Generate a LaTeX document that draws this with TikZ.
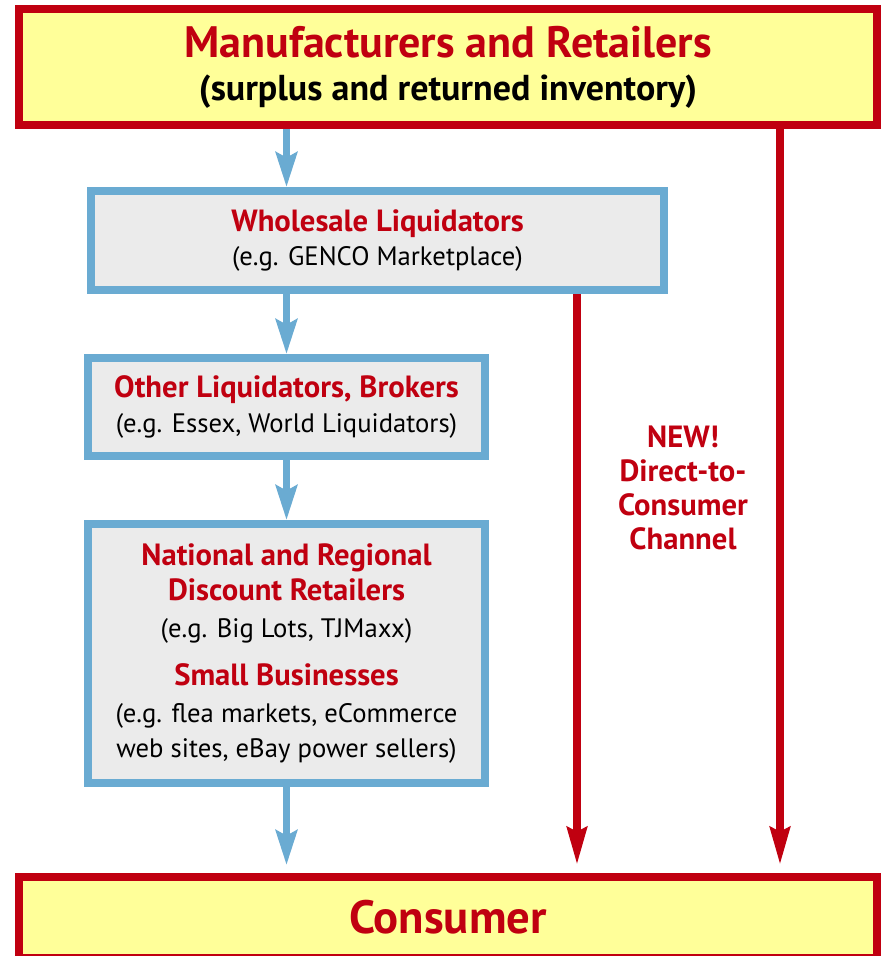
\documentclass[tikz,border=0pt]{standalone}
\usepackage{fontspec}
\setmainfont{PT Sans}
\usetikzlibrary{arrows.meta}

\definecolor{liqred}{RGB}{192,0,16}
\definecolor{liqyellow}{RGB}{255,255,153}
\definecolor{liqblue}{RGB}{106,171,210}
\definecolor{liqgray}{RGB}{235,235,235}

\newcommand{\hd}[1]{{\fontsize{23}{26}\selectfont\bfseries\color{liqred}#1}}

\tikzset{
  endbox/.style={draw=liqred, fill=liqyellow, line width=6pt, inner sep=0pt,
    align=center, minimum width=643.5pt},
  chainbox/.style={draw=liqblue, fill=liqgray, line width=6pt, inner sep=0pt,
    align=center, font=\fontsize{20}{26}\selectfont},
  flow/.style={liqblue, line width=5.25pt,
    -{Stealth[length=26pt, width=16pt, inset=4pt]}},
  direct/.style={liqred, line width=6pt,
    -{Stealth[length=28pt, width=14.5pt, inset=3pt]}},
}

\begin{document}
\begin{tikzpicture}[x=0.75pt, y=-0.75pt]
  \useasboundingbox (0,0) rectangle (885,956);

  \node[endbox, minimum height=87pt, font=\fontsize{27}{32.5}\selectfont] (top) at (448,67)
    {{\fontsize{33}{32.5}\selectfont\bfseries\color{liqred}Manufacturers and Retailers}\\
     {\bfseries (surplus and returned inventory)}};
  \node[chainbox, minimum width=429.75pt, minimum height=74.25pt] (whole) at (377.5,240.5)
    {\hd{Wholesale Liquidators}\\(e.g. GENCO Marketplace)};
  \node[chainbox, minimum width=297.75pt, minimum height=73.5pt] (other) at (286.5,407)
    {\hd{Other Liquidators, Brokers}\\(e.g. Essex, World Liquidators)};
  \node[chainbox, minimum width=297.75pt, minimum height=194.25pt] (nat) at (286.5,653.5)
    {\hd{National and Regional}\\\hd{Discount Retailers}\\[2pt]
     (e.g. Big Lots, TJMaxx)\\[10pt]
     \hd{Small Businesses}\\[2pt]
     (e.g. flea markets, eCommerce\\web sites, eBay power sellers)};
  \node[endbox, minimum height=60.75pt, font=\fontsize{35}{40}\selectfont\bfseries,
    text=liqred] (cons) at (448,917.5) {Consumer};
  \node[align=center, text=liqred, font=\fontsize{23}{25.5}\selectfont\bfseries] (new) at (683,488)
    {NEW!\\Direct-to-\\Consumer\\Channel};

  \coordinate (d1) at (577,0);
  \coordinate (d2) at (780,0);

  % supply chain
  \draw[flow] (top.south -| other.north) -- (other.north |- whole.north);
  \draw[flow] (whole.south -| other.north) -- (other.north);
  \draw[flow] (other.south) -- (nat.north);
  \draw[flow, shorten >=6pt] (nat.south) -- (cons.north -| nat.south);

  % direct channel
  \draw[direct, shorten >=6pt] (whole.south -| d1) -- (cons.north -| d1);
  \draw[direct, shorten >=6pt] (top.south -| d2) -- (cons.north -| d2);
\end{tikzpicture}
\end{document}
